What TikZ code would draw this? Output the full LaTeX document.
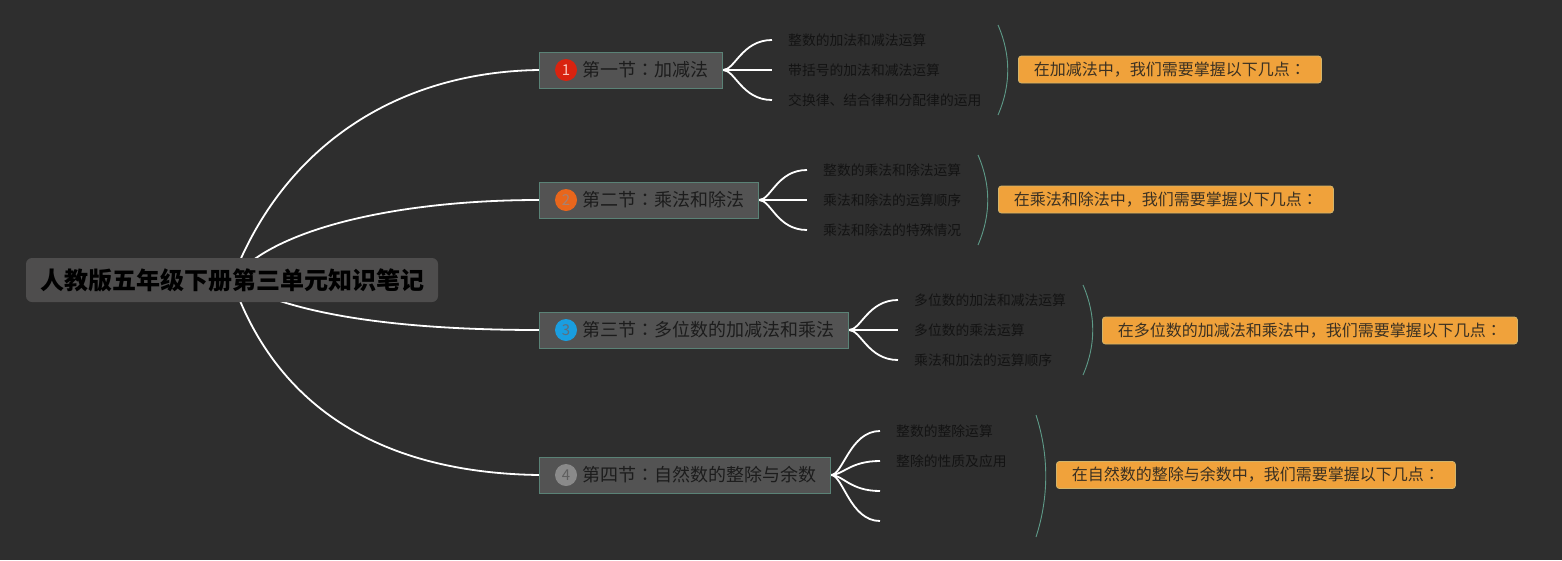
\documentclass[tikz,border=0pt]{standalone}
\usepackage{fontspec}
\setmainfont{Noto Sans CJK SC}
\newfontfamily\jpcolon{Noto Sans CJK JP}
\newcommand{\cc}{{\jpcolon ：}}
\definecolor{bgc}{HTML}{2E2E2E}
\definecolor{rootfill}{HTML}{4E4D4D}
\definecolor{secfill}{HTML}{535353}
\definecolor{secborder}{HTML}{5A8276}
\definecolor{dtext}{HTML}{1C1C1C}
\definecolor{leaftext}{HTML}{131313}
\definecolor{sumfill}{HTML}{F0A23B}
\definecolor{sumborder}{HTML}{D2B46A}
\definecolor{sumtext}{HTML}{3A3022}
\definecolor{bracec}{HTML}{5E9A88}
\definecolor{redb}{HTML}{D9230F}
\definecolor{orangeb}{HTML}{E8661C}
\definecolor{blueb}{HTML}{1A9EE0}
\definecolor{grayb}{HTML}{8A8A8A}
\pgfdeclarelayer{bgl}
\pgfdeclarelayer{edges}
\pgfsetlayers{bgl,edges,main}
\tikzset{
  rootbox/.style={fill=rootfill, rounded corners=6pt, minimum height=44pt, inner xsep=14pt, inner ysep=0pt, font=\fontsize{24}{28}\selectfont\bfseries, text=black},
  secbox/.style={fill=secfill, draw=secborder, line width=1pt, minimum height=36pt, inner sep=0pt, anchor=west},
  badge/.style={circle, minimum size=22pt, inner sep=0pt, font=\fontsize{15}{17}\selectfont},
  sectext/.style={anchor=west, inner sep=0pt, font=\fontsize{18}{22}\selectfont, text=dtext},
  leaf/.style={anchor=west, inner xsep=16pt, inner ysep=2pt, font=\fontsize{13.8}{16}\selectfont, text=leaftext},
  sumbox/.style={anchor=west, fill=sumfill, draw=sumborder, line width=0.8pt, rounded corners=3pt, minimum height=27pt, inner xsep=15.5pt, inner ysep=0pt, font=\fontsize{16}{19}\selectfont, text=sumtext},
  trunk/.style={draw=white, line width=1.8pt},
  twig/.style={draw=white, line width=1.8pt},
  brace/.style={draw=bracec, line width=0.9pt},
}
\begin{document}
\begin{tikzpicture}[x=1pt,y=-1pt]
\useasboundingbox (0,0) rectangle (1562,560);
\begin{pgfonlayer}{bgl}
\fill[bgc] (0,0) rectangle (1562,560);
\end{pgfonlayer}

% root
\node[rootbox] (root) at (232,280) {人教版五年级下册第三单元知识笔记};

% sections
\node[secbox, minimum width=183pt] (s1) at (539,70) {};
\node[badge, fill=redb, text={rgb,255:red,250;green,200;blue,190}] (b1) at (566,70) {1};
\node[sectext] (t1) at (582,70) {第一节\cc 加减法};

\node[secbox, minimum width=219pt] (s2) at (539,200) {};
\node[badge, fill=orangeb, text={rgb,255:red,165;green,130;blue,115}] (b2) at (566,200) {2};
\node[sectext] (t2) at (582,200) {第二节\cc 乘法和除法};

\node[secbox, minimum width=309pt] (s3) at (539,330) {};
\node[badge, fill=blueb, text={rgb,255:red,95;green,110;blue,125}] (b3) at (566,330) {3};
\node[sectext] (t3) at (582,330) {第三节\cc 多位数的加减法和乘法};

\node[secbox, minimum width=291pt] (s4) at (539,475) {};
\node[badge, fill=grayb, text={rgb,255:red,95;green,95;blue,95}] (b4) at (566,475) {4};
\node[sectext] (t4) at (582,475) {第四节\cc 自然数的整除与余数};

% leaves
\node[leaf] (l11) at (772,40) {整数的加法和减法运算};
\node[leaf] (l12) at (772,70) {带括号的加法和减法运算};
\node[leaf] (l13) at (772,100) {交换律、结合律和分配律的运用};

\node[leaf] (l21) at (807,170) {整数的乘法和除法运算};
\node[leaf] (l22) at (807,200) {乘法和除法的运算顺序};
\node[leaf] (l23) at (807,230) {乘法和除法的特殊情况};

\node[leaf] (l31) at (898,300) {多位数的加法和减法运算};
\node[leaf] (l32) at (898,330) {多位数的乘法运算};
\node[leaf] (l33) at (898,360) {乘法和加法的运算顺序};

\node[leaf] (l41) at (880,431) {整数的整除运算};
\node[leaf] (l42) at (880,461) {整除的性质及应用};
\coordinate (l43) at (880,491);
\coordinate (l44) at (880,521);

% summaries
\node[sumbox] (m1) at (1018,69.5) {在加减法中，我们需要掌握以下几点\cc};
\node[sumbox] (m2) at (998,199.5) {在乘法和除法中，我们需要掌握以下几点\cc};
\node[sumbox] (m3) at (1102,330.5) {在多位数的加减法和乘法中，我们需要掌握以下几点\cc};
\node[sumbox] (m4) at (1056,475) {在自然数的整除与余数中，我们需要掌握以下几点\cc};

\begin{pgfonlayer}{edges}
% trunk connectors
\draw[trunk] (root.center) .. controls (282,148) and (395,72) .. (s1.west);
\draw[trunk] (root.center) .. controls (272,228) and (400,200) .. (s2.west);
\draw[trunk] (root.center) .. controls (290,315) and (400,330) .. (s3.west);
\draw[trunk] (root.center) .. controls (280,418) and (395,473) .. (s4.west);

% twigs
\draw[twig] (s1.east) .. controls +(12,0) and +(-30,0) .. (l11.west);
\draw[twig] (s1.east) -- (l12.west);
\draw[twig] (s1.east) .. controls +(12,0) and +(-30,0) .. (l13.west);

\draw[twig] (s2.east) .. controls +(12,0) and +(-30,0) .. (l21.west);
\draw[twig] (s2.east) -- (l22.west);
\draw[twig] (s2.east) .. controls +(12,0) and +(-30,0) .. (l23.west);

\draw[twig] (s3.east) .. controls +(12,0) and +(-30,0) .. (l31.west);
\draw[twig] (s3.east) -- (l32.west);
\draw[twig] (s3.east) .. controls +(12,0) and +(-30,0) .. (l33.west);

\draw[twig] (s4.east) .. controls +(12,0) and +(-30,0) .. (l41.west);
\draw[twig] (s4.east) .. controls +(12,0) and +(-30,0) .. (l42.west);
\draw[twig] (s4.east) .. controls +(12,0) and +(-30,0) .. (l43);
\draw[twig] (s4.east) .. controls +(12,0) and +(-30,0) .. (l44);

% braces
\draw[brace] (998,25) .. controls (1011,55) and (1011,85) .. (998,115);
\draw[brace] (978,155) .. controls (991,185) and (991,215) .. (978,245);
\draw[brace] (1083,285) .. controls (1096,315) and (1096,345) .. (1083,375);
\draw[brace] (1036,415) .. controls (1049,455) and (1049,497) .. (1036,537);
\end{pgfonlayer}
\end{tikzpicture}
\end{document}
